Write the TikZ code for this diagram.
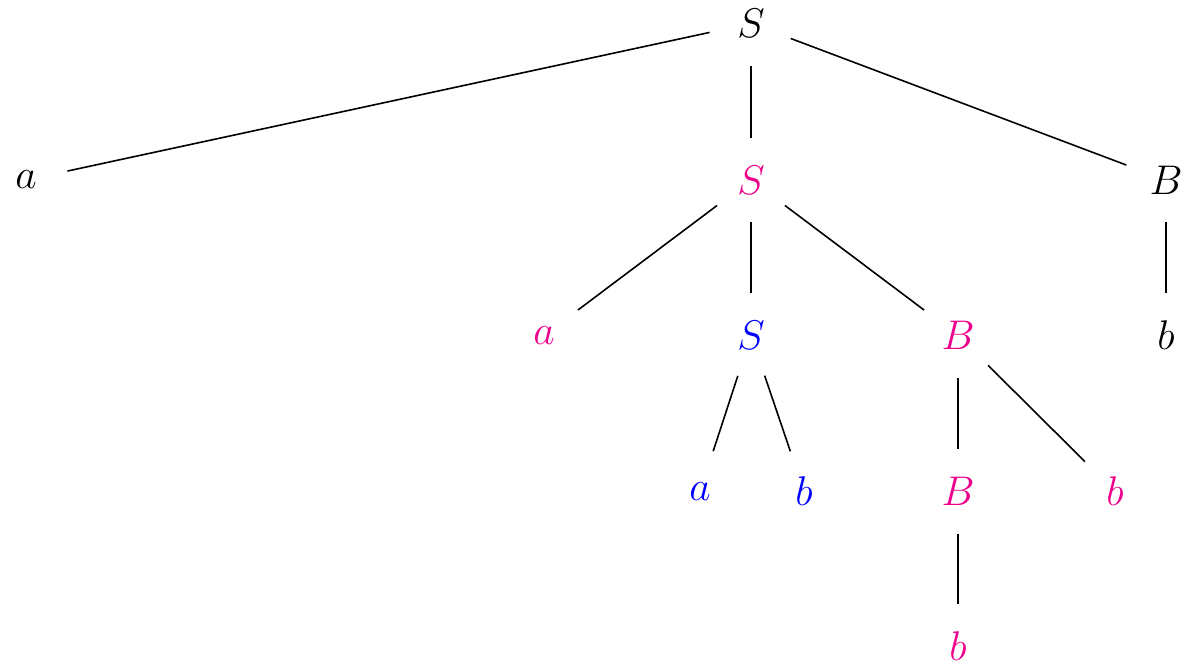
\documentclass[tikz,border=0pt]{standalone}
\usepackage{xcolor}
\definecolor{mag}{RGB}{236,0,140}
\definecolor{blu}{RGB}{0,0,255}
\begin{document}
\begin{tikzpicture}[x=0.5pt,y=-0.5pt,
  tn/.style={circle,minimum size=42pt,inner sep=0pt,font=\fontsize{20.74}{25}\selectfont},
  edge/.style={line width=0.8pt,black}]
\useasboundingbox (0,0) rectangle (1181,663);
% level 0
\node[tn] (r) at (751,23.5) {$S$};
% level 1
\node[tn] (a1) at (26,180) {$a$};
\node[tn,text=mag] (s1) at (751,180) {$S$};
\node[tn] (b1) at (1166,180) {$B$};
% level 2
\node[tn,text=mag] (a2) at (544,335.5) {$a$};
\node[tn,text=blu] (s2) at (751,335.5) {$S$};
\node[tn,text=mag] (bb2) at (958,335.5) {$B$};
\node[tn] (b2) at (1166,335.5) {$b$};
% level 3
\node[tn,text=blu] (a3) at (700,491.5) {$a$};
\node[tn,text=blu] (b3) at (804,491.5) {$b$};
\node[tn,text=mag] (bb3) at (958,491.5) {$B$};
\node[tn,text=mag] (b3r) at (1115,491.5) {$b$};
% level 4
\node[tn,text=mag] (b4) at (958,646) {$b$};
% edges
\draw[edge] (r) -- (a1);
\draw[edge] (r) -- (s1);
\draw[edge] (r) -- (b1);
\draw[edge] (s1) -- (a2);
\draw[edge] (s1) -- (s2);
\draw[edge] (s1) -- (bb2);
\draw[edge] (b1) -- (b2);
\draw[edge] (s2) -- (a3);
\draw[edge] (s2) -- (b3);
\draw[edge] (bb2) -- (bb3);
\draw[edge] (bb2) -- (b3r);
\draw[edge] (bb3) -- (b4);
\end{tikzpicture}
\end{document}
